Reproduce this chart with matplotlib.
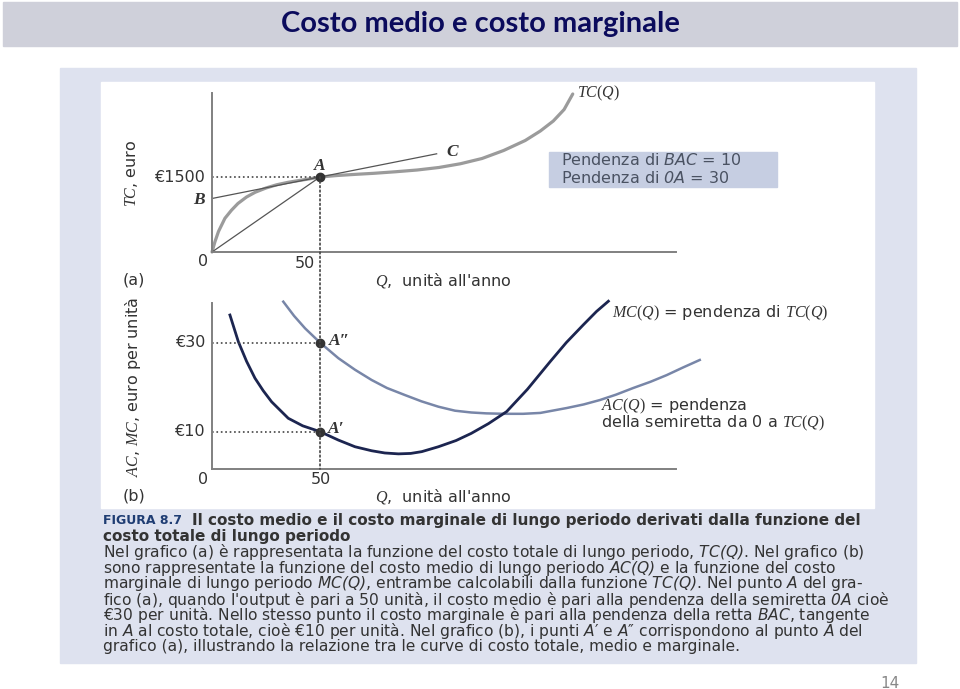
import matplotlib
matplotlib.use('Agg')
import matplotlib.pyplot as plt
from matplotlib.patches import Rectangle, ConnectionPatch

plt.rcParams['font.family'] = ['DejaVu Sans']
plt.rcParams['mathtext.fontset'] = 'custom'
plt.rcParams['mathtext.rm'] = 'Liberation Serif'
plt.rcParams['mathtext.it'] = 'Liberation Serif:italic'
plt.rcParams['mathtext.sf'] = 'DejaVu Sans:italic'

# ---------------------------------------------------------------
# dati
# ---------------------------------------------------------------
# (a) costo totale TC(Q)
tc_q = [0, 1.4, 3, 6, 9, 12, 16, 20, 25, 30, 35, 40, 45, 50, 58, 66, 75, 85,
        95, 105, 115, 125, 135, 145, 152, 158, 163, 167]
tc_val = [0, 210, 410, 675, 835, 970, 1100, 1195, 1280, 1345, 1392, 1428, 1462,
          1500, 1530, 1552, 1574, 1605, 1640, 1690, 1765, 1870, 2030, 2230,
          2420, 2620, 2850, 3160]
# retta tangente BAC e semiretta 0A
bac_q = [0, 50, 104]
bac_val = [1070, 1500, 1964]
oa_q = [0, 50]
oa_val = [0, 1500]
q_a, tc_a = 50, 1500

# (b) costo marginale e costo medio
mc_q = [8.3, 12.2, 16, 19.9, 23.7, 27.6, 35.3, 42, 50, 58.5, 66.2, 73.9, 80,
        86.3, 92, 97.1, 104.8, 113, 120, 128, 136.4, 146, 156.5, 164, 171.9,
        178, 183.5]
mc_val = [36.2, 30.2, 25.8, 22.0, 19.2, 16.7, 13.0, 11.3, 10, 8.1, 6.6, 5.7,
          5.2, 5.0, 5.1, 5.5, 6.6, 8.0, 9.6, 11.8, 14.5, 19.5, 25.7, 30, 34.0,
          37, 39.3]
ac_q = [33, 38, 43.1, 50, 58.5, 66.2, 73.9, 81, 89.4, 97, 104.8, 112.5, 120,
        127, 135.6, 144, 152, 164.2, 172, 179.6, 187, 195, 203, 210.5, 218, 225.8]
ac_val = [39.2, 36.0, 33.2, 30, 26.5, 23.9, 21.6, 19.8, 18.2, 16.8, 15.6, 14.7,
          14.3, 14.1, 14.0, 14.0, 14.2, 15.3, 16.1, 17.1, 18.3, 19.8, 21.2,
          22.7, 24.4, 26.1]
ac_a, mc_a = 30, 10

caption = [
    "Nel grafico (a) è rappresentata la funzione del costo totale di lungo periodo, $\\mathsf{TC(Q)}$. Nel grafico (b)",
    "sono rappresentate la funzione del costo medio di lungo periodo $\\mathsf{AC(Q)}$ e la funzione del costo",
    "marginale di lungo periodo $\\mathsf{MC(Q)}$, entrambe calcolabili dalla funzione $\\mathsf{TC(Q)}$. Nel punto $\\mathsf{A}$ del gra-",
    "fico (a), quando l'output è pari a 50 unità, il costo medio è pari alla pendenza della semiretta $\\mathsf{0A}$ cioè",
    "€30 per unità. Nello stesso punto il costo marginale è pari alla pendenza della retta $\\mathsf{BAC}$, tangente",
    "in $\\mathsf{A}$ al costo totale, cioè €10 per unità. Nel grafico (b), i punti $\\mathsf{A}$′ e $\\mathsf{A}$″ corrispondono al punto $\\mathsf{A}$ del",
    "grafico (a), illustrando la relazione tra le curve di costo totale, medio e marginale.",
]

AXC = '#808080'
TXT = '#333333'
DOT = '#444444'
FS = 11.5          # testo dei grafici
W, H = 960, 689


def box(x0, y0, x1, y1):
    return [x0 / W, 1 - y1 / H, (x1 - x0) / W, (y1 - y0) / H]


fig = plt.figure(figsize=(9.6, 6.89), dpi=100)

# sfondo della slide
bg = fig.add_axes([0, 0, 1, 1])
bg.set_xlim(0, W)
bg.set_ylim(H, 0)
bg.axis('off')
bg.add_patch(Rectangle((3, 2), 954, 44, color='#cfd0da'))
bg.text(480, 24, 'Costo medio e costo marginale', ha='center', va='center',
        fontsize=21, fontweight='bold', color='#0b0b5c', family='Lato')
bg.add_patch(Rectangle((60, 68), 856, 595, color='#dee2ef'))
bg.add_patch(Rectangle((101, 82), 773, 426, color='white'))
bg.text(890, 683, '14', ha='center', va='center', fontsize=11, color='#888888')

# riquadro pendenze
bg.add_patch(Rectangle((549, 152), 228, 35, color='#c6cee2'))
bg.text(561, 160, 'Pendenza di $\\mathsf{BAC}$ = 10', va='center', fontsize=FS, color='#4a5262')
bg.text(561, 178, 'Pendenza di $\\mathsf{0A}$ = 30', va='center', fontsize=FS, color='#4a5262')

# etichette assi e pannelli
bg.text(134, 280, '(a)', ha='center', va='center', fontsize=FS, color=TXT)
bg.text(134, 496, '(b)', ha='center', va='center', fontsize=FS, color=TXT)
bg.text(375, 280, "$Q$,  unità all'anno", va='center', fontsize=FS, color=TXT)
bg.text(375, 496, "$Q$,  unità all'anno", va='center', fontsize=FS, color=TXT)
bg.text(131, 173, '$TC$, euro', rotation=90, ha='center', va='center', fontsize=FS, color=TXT)
bg.text(133, 387, '$AC$, $MC$, euro per unità', rotation=90, ha='center', va='center',
        fontsize=FS, color=TXT)
bg.text(601, 406, '$AC(Q)$ = pendenza', va='center', fontsize=FS, color=TXT)
bg.text(601, 423, 'della semiretta da 0 a $TC(Q)$', va='center', fontsize=FS, color=TXT)

# didascalia
bg.text(103, 521, 'FIGURA 8.7', va='center', fontsize=9, fontweight='bold',
        color='#1f3d73')
bg.text(192, 521, 'Il costo medio e il costo marginale di lungo periodo derivati dalla funzione del',
        va='center', fontsize=11, fontweight='bold', color=TXT)
bg.text(103, 537, 'costo totale di lungo periodo', va='center', fontsize=11,
        fontweight='bold', color=TXT)
for i, line in enumerate(caption):
    bg.text(103, 552.5 + i * 15.7, line, va='center', fontsize=11.2, color=TXT)

# ---------------------------------------------------------------
# (a) costo totale
# ---------------------------------------------------------------
ax_a = fig.add_axes(box(212, 93, 676, 252))
ax_b = fig.add_axes(box(212, 303, 676, 469))
for ax in (ax_a, ax_b):
    ax.patch.set_visible(False)
    ax.set_xticks([])
    ax.set_yticks([])
    for s in ('top', 'right'):
        ax.spines[s].set_visible(False)
    for s in ('left', 'bottom'):
        ax.spines[s].set_color(AXC)
        ax.spines[s].set_linewidth(1.4)

ax_a.set_xlim(0, 214.8)
ax_a.set_ylim(0, 3180)
ax_a.plot(tc_q, tc_val, color='#9b9b9b', lw=2.3, clip_on=False, solid_capstyle='round')
ax_a.plot(bac_q, bac_val, color='#555555', lw=0.9)
ax_a.plot(oa_q, oa_val, color='#555555', lw=0.9)
ax_a.plot([0, q_a], [tc_a, tc_a], ls=':', color=DOT, lw=1.2)
ax_a.plot(q_a, tc_a, 'o', color='#333333', ms=6, zorder=5)

kw = dict(textcoords='offset pixels', color=TXT, fontsize=FS, va='center',
          annotation_clip=False)
ax_a.annotate('€1500', (0, tc_a), xytext=(-7, 0), ha='right', **kw)
ax_a.annotate('0', (0, 0), xytext=(-4, -10), ha='right', **kw)
ax_a.annotate('50', (q_a, 0), xytext=(-5, -11), ha='right', **kw)
serif = dict(textcoords='offset pixels', color=TXT, fontsize=12.5, va='center',
             family='Liberation Serif', style='italic', fontweight='bold',
             annotation_clip=False)
ax_a.annotate('A', (q_a, tc_a), xytext=(0, 11), ha='center', **serif)
ax_a.annotate('B', (0, bac_val[0]), xytext=(-7, -2), ha='right', **serif)
ax_a.annotate('C', (bac_q[-1], bac_val[-1]), xytext=(10, 2), ha='left', **serif)
ax_a.annotate('$TC(Q)$', (tc_q[-1], tc_val[-1]), xytext=(4, 1), ha='left', **kw)

# ---------------------------------------------------------------
# (b) costo medio e marginale
# ---------------------------------------------------------------
ax_b.set_xlim(0, 214.8)
ax_b.set_ylim(1.6, 38.9)
ax_b.plot(ac_q, ac_val, color='#7886a8', lw=1.8, clip_on=False)
ax_b.plot(mc_q, mc_val, color='#1c2550', lw=2.0, clip_on=False)
ax_b.plot([0, q_a], [ac_a, ac_a], ls=':', color=DOT, lw=1.2)
ax_b.plot([0, q_a], [mc_a, mc_a], ls=':', color=DOT, lw=1.2)
ax_b.plot([q_a, q_a], [ac_a, mc_a], 'o', color='#333333', ms=6, zorder=5)

ax_b.annotate('€30', (0, ac_a), xytext=(-7, 0), ha='right', **kw)
ax_b.annotate('€10', (0, mc_a), xytext=(-7, 0), ha='right', **kw)
ax_b.annotate('0', (0, 1.6), xytext=(-4, -10), ha='right', **kw)
ax_b.annotate('50', (q_a, 1.6), xytext=(1, -10), ha='center', **kw)
ax_b.annotate('A″', (q_a, ac_a), xytext=(9, 2), ha='left', **serif)
ax_b.annotate('A′', (q_a, mc_a), xytext=(8, 3), ha='left', **serif)
ax_b.annotate('$MC(Q)$ = pendenza di $TC(Q)$', (mc_q[-1], mc_val[-1]), xytext=(4, -12),
              ha='left', **kw)

# linea verticale tratteggiata da A fino all'asse di (b)
con = ConnectionPatch(xyA=(q_a, tc_a), coordsA=ax_a.transData,
                      xyB=(q_a, 1.6), coordsB=ax_b.transData,
                      ls=':', color=DOT, lw=1.2)
fig.add_artist(con)

fig.savefig('out.png', dpi=100)
